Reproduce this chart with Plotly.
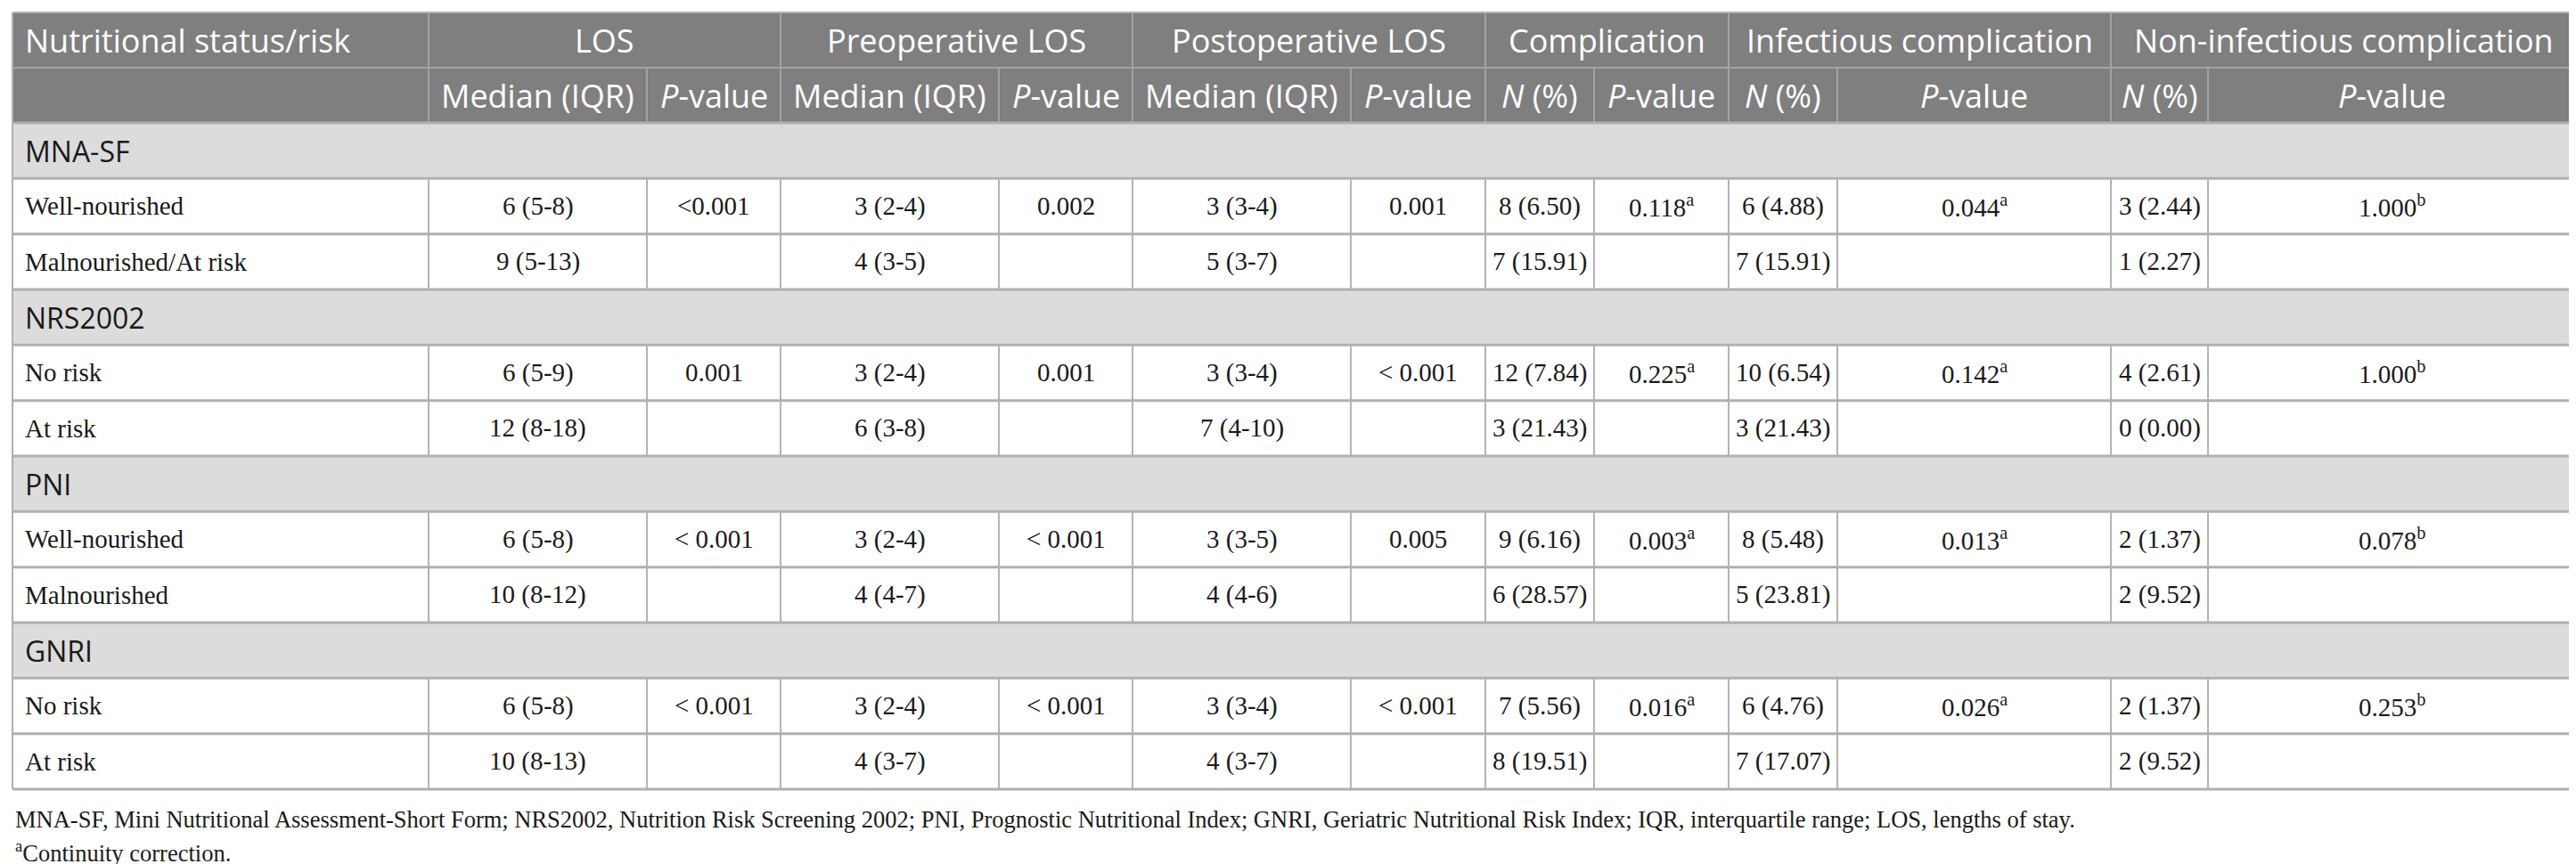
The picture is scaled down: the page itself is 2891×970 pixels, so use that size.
import plotly.graph_objects as go

# ---------------- data ----------------
first_header = "Nutritional status/risk"
header_groups = ["LOS", "Preoperative LOS", "Postoperative LOS", "Complication",
                 "Infectious complication", "Non-infectious complication"]
sub_headers = ["Median (IQR)", "<i>P</i>-value", "Median (IQR)", "<i>P</i>-value",
               "Median (IQR)", "<i>P</i>-value", "<i>N</i> (%)", "<i>P</i>-value",
               "<i>N</i> (%)", "<i>P</i>-value", "<i>N</i> (%)", "<i>P</i>-value"]

groups = ["MNA-SF", "NRS2002", "PNI", "GNRI"]
row_labels = [["Well-nourished", "Malnourished/At risk"],
              ["No risk", "At risk"],
              ["Well-nourished", "Malnourished"],
              ["No risk", "At risk"]]

los_median = ["6 (5-8)", "9 (5-13)", "6 (5-9)", "12 (8-18)", "6 (5-8)", "10 (8-12)", "6 (5-8)", "10 (8-13)"]
los_p = ["<0.001", "", "0.001", "", "< 0.001", "", "< 0.001", ""]
pre_median = ["3 (2-4)", "4 (3-5)", "3 (2-4)", "6 (3-8)", "3 (2-4)", "4 (4-7)", "3 (2-4)", "4 (3-7)"]
pre_p = ["0.002", "", "0.001", "", "< 0.001", "", "< 0.001", ""]
post_median = ["3 (3-4)", "5 (3-7)", "3 (3-4)", "7 (4-10)", "3 (3-5)", "4 (4-6)", "3 (3-4)", "4 (3-7)"]
post_p = ["0.001", "", "< 0.001", "", "0.005", "", "< 0.001", ""]
comp_n = ["8 (6.50)", "7 (15.91)", "12 (7.84)", "3 (21.43)", "9 (6.16)", "6 (28.57)", "7 (5.56)", "8 (19.51)"]
comp_p = ["0.118", "", "0.225", "", "0.003", "", "0.016", ""]
comp_note = ["a", "", "a", "", "a", "", "a", ""]
inf_n = ["6 (4.88)", "7 (15.91)", "10 (6.54)", "3 (21.43)", "8 (5.48)", "5 (23.81)", "6 (4.76)", "7 (17.07)"]
inf_p = ["0.044", "", "0.142", "", "0.013", "", "0.026", ""]
inf_note = ["a", "", "a", "", "a", "", "a", ""]
noninf_n = ["3 (2.44)", "1 (2.27)", "4 (2.61)", "0 (0.00)", "2 (1.37)", "2 (9.52)", "2 (1.37)", "2 (9.52)"]
noninf_p = ["1.000", "", "1.000", "", "0.078", "", "0.253", ""]
noninf_note = ["b", "", "b", "", "b", "", "b", ""]

footnote1 = ("MNA-SF, Mini Nutritional Assessment-Short Form; NRS2002, Nutrition Risk Screening 2002; "
             "PNI, Prognostic Nutritional Index; GNRI, Geriatric Nutritional Risk Index; "
             "IQR, interquartile range; LOS, lengths of stay.")
footnote2_note = "a"
footnote2 = "Continuity correction."

# ---------------- layout / style ----------------
W, H = 2891, 970
X0, Y0 = 6, 6
col_widths = [467, 245, 150, 245, 150, 245, 151, 122, 151, 122, 307, 109, 413]
head_h = 62
row_h = 62.33
SANS = "Open Sans"
SERIF = "Liberation Serif"
HEAD_BG = "#7f7f7f"
GROUP_BG = "#dcdcdc"
HEAD_LINE = "#a3a3a3"
HLINE = "#b0b0b0"
VLINE = "#b4b4b4"
TXT = "#1a1a1a"
PAD = 12

col_edges = [X0]
for w in col_widths:
    col_edges.append(col_edges[-1] + w)
XR = col_edges[-1]

def esc(s):
    return s.replace("<0", "&lt;0").replace("< 0", "&lt; 0")

def with_note(v, n):
    return esc(v) + (f"<sup>{n}</sup>" if n else "")

value_cols = [
    [esc(v) for v in los_median], [esc(v) for v in los_p],
    [esc(v) for v in pre_median], [esc(v) for v in pre_p],
    [esc(v) for v in post_median], [esc(v) for v in post_p],
    comp_n, [with_note(v, n) for v, n in zip(comp_p, comp_note)],
    inf_n, [with_note(v, n) for v, n in zip(inf_p, inf_note)],
    noninf_n, [with_note(v, n) for v, n in zip(noninf_p, noninf_note)],
]

shapes = []
ann = []

def rect(x0, y0, x1, y1, fill):
    shapes.append(dict(type="rect", xref="x", yref="y", x0=x0, y0=y0, x1=x1, y1=y1,
                       fillcolor=fill, line=dict(width=0), layer="below"))

def line(x0, y0, x1, y1, color, width):
    shapes.append(dict(type="line", xref="x", yref="y", x0=x0, y0=y0, x1=x1, y1=y1,
                       line=dict(color=color, width=width)))

def text(x, y, s, size, family, color, anchor="center"):
    ann.append(dict(x=x, y=y, xref="x", yref="y", text=s, showarrow=False,
                    xanchor=anchor, yanchor="middle",
                    font=dict(size=size, family=family, color=color)))

# header
h1_top, h1_bot, h2_bot = Y0, Y0 + head_h, Y0 + 2 * head_h
rect(X0, h1_top, XR, h2_bot, HEAD_BG)
text(X0 + PAD, (h1_top + h1_bot) / 2, first_header, 36, SANS, "white", "left")
for gi, g in enumerate(header_groups):
    xa, xb = col_edges[1 + 2 * gi], col_edges[3 + 2 * gi]
    text((xa + xb) / 2, (h1_top + h1_bot) / 2, g, 36, SANS, "white")
for ci, s in enumerate(sub_headers):
    xa, xb = col_edges[1 + ci], col_edges[2 + ci]
    text((xa + xb) / 2, (h1_bot + h2_bot) / 2, s, 36, SANS, "white")
line(X0, h1_bot, XR, h1_bot, HEAD_LINE, 2)
for gi in range(len(header_groups)):
    x = col_edges[1 + 2 * gi]
    line(x, h1_top, x, h1_bot, HEAD_LINE, 2)
for x in col_edges[1:-1]:
    line(x, h1_bot, x, h2_bot, HEAD_LINE, 2)

# body
y = h2_bot
k = 0
row_bounds = [y]
for gi, g in enumerate(groups):
    rect(X0, y, XR, y + row_h, GROUP_BG)
    text(X0 + PAD, y + row_h / 2, g, 32, SANS, TXT, "left")
    y += row_h
    row_bounds.append(y)
    for lab in row_labels[gi]:
        text(X0 + PAD, y + row_h / 2, lab, 29, SERIF, TXT, "left")
        for ci, col in enumerate(value_cols):
            xa, xb = col_edges[1 + ci], col_edges[2 + ci]
            if col[k]:
                text((xa + xb) / 2, y + row_h / 2, col[k], 29, SERIF, TXT)
        for x in col_edges[1:-1]:
            line(x, y, x, y + row_h, VLINE, 2)
        k += 1
        y += row_h
        row_bounds.append(y)
for yb in row_bounds:
    line(X0, yb, XR, yb, HLINE, 3)
line(X0, h1_top, XR, h1_top, HLINE, 2)
line(X0, h1_top, X0, y, HLINE, 2)
line(XR, h1_top, XR, y, HLINE, 2)

# footnotes
text(X0 + 1, y + 34, footnote1, 26.5, SERIF, TXT, "left")
text(X0 + 1, y + 70, f"<sup>{footnote2_note}</sup>" + footnote2, 26.5, SERIF, TXT, "left")

fig = go.Figure()
fig.update_layout(
    width=W, height=H, margin=dict(l=0, r=0, t=0, b=0),
    paper_bgcolor="white", plot_bgcolor="white",
    xaxis=dict(range=[0, W], visible=False, fixedrange=True),
    yaxis=dict(range=[H, 0], visible=False, fixedrange=True),
    shapes=shapes, annotations=ann, showlegend=False,
)
fig.write_html("out.html")
